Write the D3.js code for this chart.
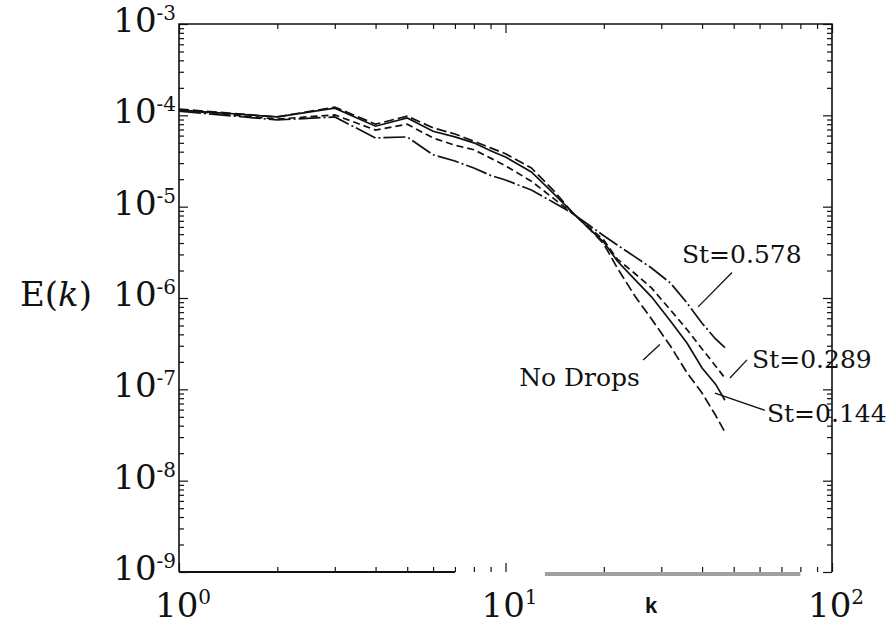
<!DOCTYPE html>
<html>
<head>
<meta charset="utf-8">
<script src="https://cdn.jsdelivr.net/npm/d3@7"></script>
<style>
  body { margin: 0; background: #fff; }
  svg { display: block; }
</style>
</head>
<body>
<svg id="chart" width="896" height="627"></svg>
<script>
// Wavenumber shells and energy spectra E(k)
const wavenumbers = [1, 2, 3, 4, 5, 6, 7, 8, 9, 10, 12, 14, 16, 18, 20, 22, 25, 28, 32, 36, 40, 44, 47];
const energyNoDrops = [1.17e-4, 9.6e-5, 1.23e-4, 8.0e-5, 9.8e-5, 7.3e-5, 6.25e-5, 5.2e-5, 4.4e-5, 3.8e-5, 2.65e-5, 1.52e-5, 8.7e-6, 5.8e-6, 3.9e-6, 2.13e-6, 1.03e-6, 5.9e-7, 2.98e-7, 1.51e-7, 9.1e-8, 5.2e-8, 3.4e-8];
const energySt0144 = [1.14e-4, 9.6e-5, 1.2e-4, 7.6e-5, 9.35e-5, 6.7e-5, 5.8e-5, 5.0e-5, 4.1e-5, 3.5e-5, 2.4e-5, 1.41e-5, 8.7e-6, 5.8e-6, 4.1e-6, 2.54e-6, 1.57e-6, 1.03e-6, 5.6e-7, 3.2e-7, 1.71e-7, 1.14e-7, 7.6e-8];
const energySt0289 = [1.14e-4, 9.1e-5, 1.01e-4, 6.9e-5, 8.0e-5, 5.65e-5, 4.7e-5, 4.2e-5, 3.4e-5, 2.8e-5, 1.9e-5, 1.24e-5, 8.5e-6, 6.0e-6, 4.3e-6, 2.67e-6, 1.83e-6, 1.29e-6, 7.4e-7, 4.5e-7, 2.77e-7, 1.8e-7, 1.33e-7];
const energySt0578 = [1.11e-4, 8.9e-5, 9.6e-5, 5.65e-5, 5.8e-5, 3.7e-5, 3.16e-5, 2.65e-5, 2.2e-5, 1.96e-5, 1.52e-5, 1.12e-5, 8.5e-6, 6.3e-6, 4.8e-6, 3.8e-6, 2.8e-6, 2.13e-6, 1.46e-6, 8.8e-7, 5.3e-7, 3.56e-7, 2.86e-7];

const seriesLabels = ["No Drops", "St=0.144", "St=0.289", "St=0.578"];
const xTickExponents = [0, 1, 2];
const yTickExponents = [-3, -4, -5, -6, -7, -8, -9];

// ---- layout ----
const svg = d3.select("#chart");
const frame = { left: 179, right: 832, top: 24, bottom: 572 };
const x = d3.scaleLog().domain([1, 100]).range([frame.left, frame.right]);
const y = d3.scaleLog().domain([1e-9, 1e-3]).range([frame.bottom, frame.top]);

const serif = "'DejaVu Serif', 'Liberation Serif', serif";
const ink = "#111";

// ---- tick values ----
const xMajor = xTickExponents.map(e => 10 ** e);
const xMinor = [];
[1, 10].forEach(d => { for (let m = 2; m <= 9; m++) xMinor.push(m * d); });
const yMajor = yTickExponents.map(e => 10 ** e);
const yMinor = [];
for (let e = -9; e < -3; e++) for (let m = 2; m <= 9; m++) yMinor.push(m * 10 ** e);

function tickAxis(axis, values, size, transform) {
  svg.append("g")
    .attr("transform", transform)
    .call(axis.tickValues(values).tickSize(size).tickFormat(""))
    .call(g => g.select(".domain").remove())
    .selectAll("line").attr("stroke", ink).attr("stroke-width", 1.2);
}
// inward ticks on all four sides
tickAxis(d3.axisBottom(x), xMajor, -9, `translate(0,${frame.bottom})`);
tickAxis(d3.axisBottom(x), xMinor, -5, `translate(0,${frame.bottom})`);
tickAxis(d3.axisTop(x), xMajor, -9, `translate(0,${frame.top})`);
tickAxis(d3.axisTop(x), xMinor, -5, `translate(0,${frame.top})`);
tickAxis(d3.axisLeft(y), yMajor, -9, `translate(${frame.left},0)`);
tickAxis(d3.axisLeft(y), yMinor, -5, `translate(${frame.left},0)`);
tickAxis(d3.axisRight(y), yMajor, -9, `translate(${frame.right},0)`);
tickAxis(d3.axisRight(y), yMinor, -5, `translate(${frame.right},0)`);

// frame: left, top, right sides
svg.append("path")
  .attr("d", `M${frame.left},${frame.bottom}V${frame.top}H${frame.right}V${frame.bottom}`)
  .attr("fill", "none").attr("stroke", ink).attr("stroke-width", 1.6);
// bottom side: dark run, then a faded gray band
svg.append("line")
  .attr("x1", x(1)).attr("x2", x(7))
  .attr("y1", frame.bottom).attr("y2", frame.bottom)
  .attr("stroke", ink).attr("stroke-width", 2);
svg.append("line")
  .attr("x1", x(13.2)).attr("x2", x(80))
  .attr("y1", frame.bottom + 2).attr("y2", frame.bottom + 2)
  .attr("stroke", "#a0a0a0").attr("stroke-width", 4);

// ---- spectra ----
const series = [
  { name: seriesLabels[0], values: energyNoDrops, dash: "10,4" },
  { name: seriesLabels[1], values: energySt0144, dash: null },
  { name: seriesLabels[2], values: energySt0289, dash: "7,4" },
  { name: seriesLabels[3], values: energySt0578, dash: "22,3,2,3" }
];
const line = d3.line()
  .x((d, i) => x(wavenumbers[i]))
  .y(d => y(d));

svg.append("g").selectAll("path")
  .data(series)
  .join("path")
  .attr("d", d => line(d.values))
  .attr("fill", "none")
  .attr("stroke", ink)
  .attr("stroke-width", 1.7)
  .attr("stroke-dasharray", d => d.dash);

// ---- series annotations (positions in data units) ----
const notes = [
  { text: seriesLabels[3], at: [34.7, 3.0e-6], from: [38.9, 8.0e-7], to: [49.4, 1.9e-6], anchor: "start" },
  { text: seriesLabels[2], at: [56.9, 2.15e-7], from: [48.7, 1.33e-7], to: [54.9, 2.1e-7], anchor: "start" },
  { text: seriesLabels[1], at: [63.2, 5.5e-8], from: [43.8, 9.1e-8], to: [62.3, 5.9e-8], anchor: "start" },
  { text: seriesLabels[0], at: [25.8, 1.36e-7], from: [26.4, 2.1e-7], to: [29.7, 3.1e-7], anchor: "end" }
];
const noteG = svg.append("g");
noteG.selectAll("line").data(notes).join("line")
  .attr("x1", d => x(d.from[0])).attr("y1", d => y(d.from[1]))
  .attr("x2", d => x(d.to[0])).attr("y2", d => y(d.to[1]))
  .attr("stroke", ink).attr("stroke-width", 1.3);
noteG.selectAll("text").data(notes).join("text")
  .attr("x", d => x(d.at[0])).attr("y", d => y(d.at[1]) + 9)
  .attr("text-anchor", d => d.anchor)
  .attr("font-family", serif).attr("font-size", 25)
  .attr("fill", ink)
  .text(d => d.text);

// ---- tick labels ----
svg.append("g").selectAll("text").data(xTickExponents).join("text")
  .attr("x", d => x(10 ** d) + 4).attr("y", 617)
  .attr("text-anchor", "middle")
  .attr("font-family", serif).attr("font-size", 34).attr("fill", ink)
  .call(t => {
    t.append("tspan").text("10");
    t.append("tspan").attr("dy", -13).attr("font-size", 20).text(d => d);
  });

svg.append("g").selectAll("text").data(yTickExponents).join("text")
  .attr("x", 176).attr("y", d => y(10 ** d) + 8)
  .attr("text-anchor", "end")
  .attr("font-family", serif).attr("font-size", 34).attr("fill", ink)
  .call(t => {
    t.append("tspan").text("10");
    t.append("tspan").attr("dy", -12).attr("font-size", 20).text(d => d);
  });

// ---- axis titles ----
svg.append("text")
  .attr("x", 651).attr("y", 613)
  .attr("text-anchor", "middle")
  .attr("font-family", "'Liberation Sans', Arial, sans-serif")
  .attr("font-weight", "bold").attr("font-size", 22).attr("fill", ink)
  .text("k");

const eLabel = svg.append("text")
  .attr("x", 20).attr("y", y(1e-6) + 8)
  .attr("font-family", serif).attr("font-size", 34).attr("fill", ink);
eLabel.append("tspan").text("E(");
eLabel.append("tspan").attr("font-style", "italic").text("k");
eLabel.append("tspan").text(")");
</script>
</body>
</html>
